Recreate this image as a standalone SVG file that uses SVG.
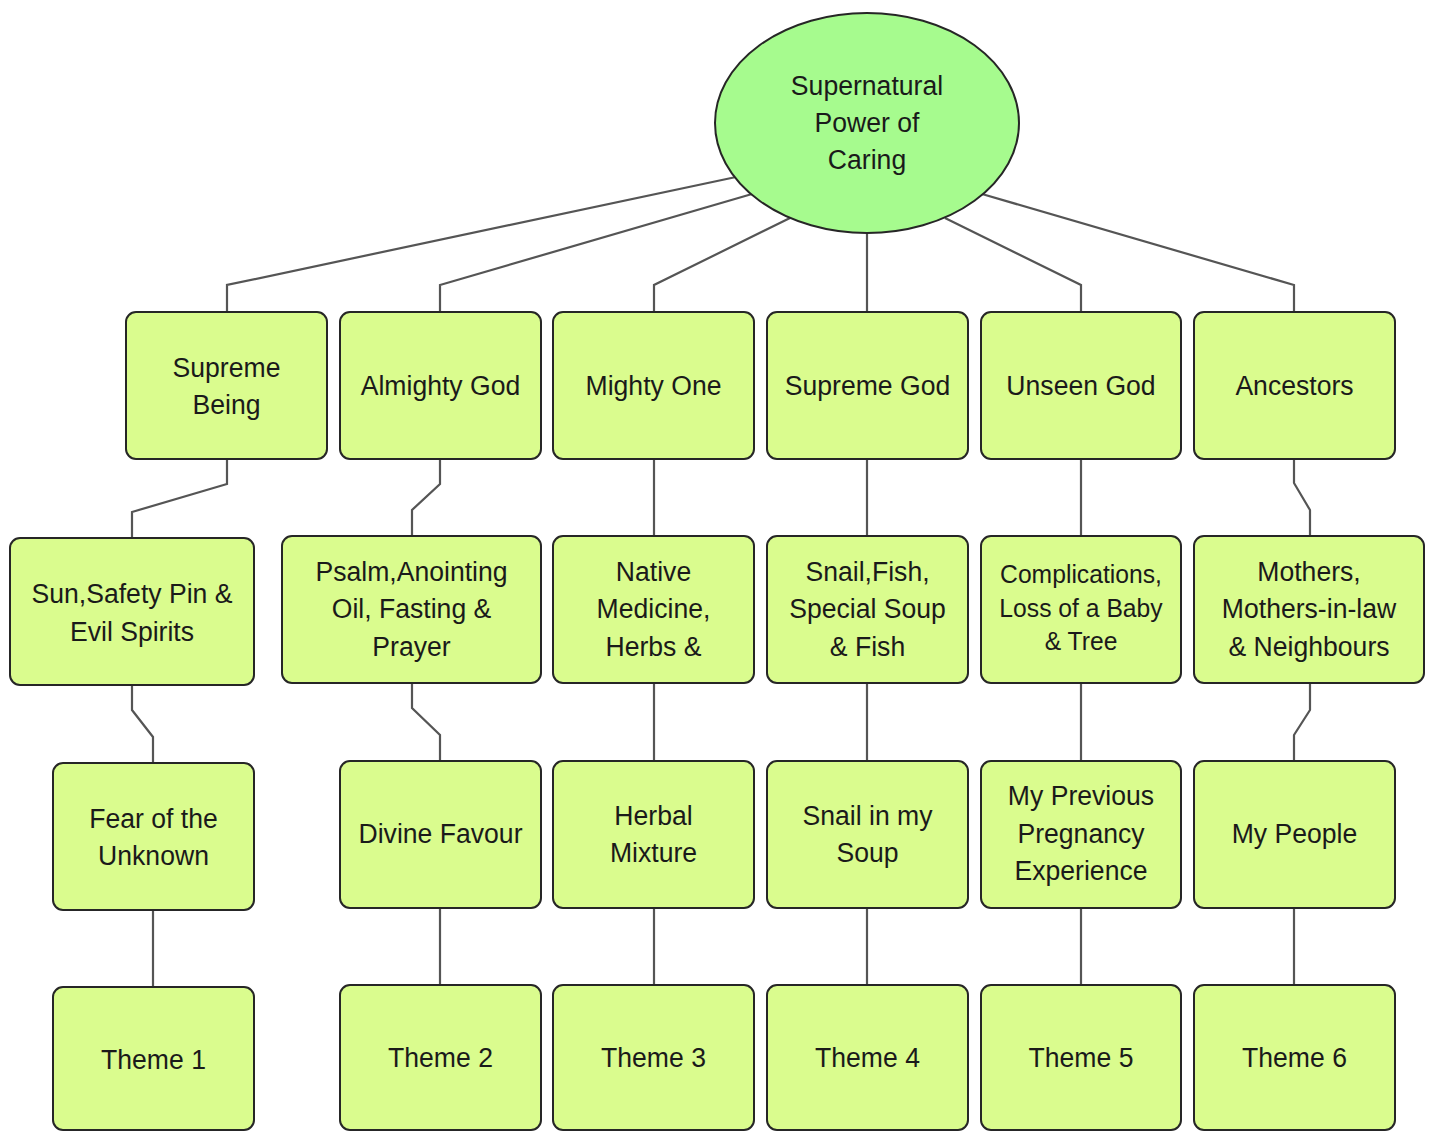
<svg xmlns="http://www.w3.org/2000/svg" width="1432" height="1131" viewBox="0 0 1432 1131">
  <style>
    .box { fill: #dafc8e; stroke: #262626; stroke-width: 2; }
    .root { fill: #a6fb8e; stroke: #262626; stroke-width: 2; }
    .link { fill: none; stroke: #555555; stroke-width: 2.2; stroke-linejoin: miter; }
    .t { font-family: "Liberation Sans", Arial, Helvetica, sans-serif; font-size: 28px; fill: #1a1a1a; text-anchor: middle; }
    .s { font-size: 26px; }
  </style>
  <rect width="1432" height="1131" fill="#ffffff"/>

  <!-- connectors (drawn first so the nodes sit on top) -->
  <g id="connectors" class="link">
    <path d="M736,177 L227,285 V312"/>
    <path d="M752,194 L440,285 V312"/>
    <path d="M790,218 L654,285 V312"/>
    <path d="M867,230 V312"/>
    <path d="M945,218 L1081,285 V312"/>
    <path d="M982,194 L1294,285 V312"/>

    <path d="M227,459 V484 L132,512 V538"/>
    <path d="M440,459 V484 L412,510 V536"/>
    <path d="M654,459 V536"/>
    <path d="M867,459 V536"/>
    <path d="M1081,459 V536"/>
    <path d="M1294,459 V483 L1310,510 V536"/>

    <path d="M132,685 V710 L153,737 V763"/>
    <path d="M412,683 V708 L440,735 V761"/>
    <path d="M654,683 V761"/>
    <path d="M867,683 V761"/>
    <path d="M1081,683 V761"/>
    <path d="M1310,683 V710 L1294,735 V761"/>

    <path d="M153,910 V987"/>
    <path d="M440,908 V985"/>
    <path d="M654,908 V985"/>
    <path d="M867,908 V985"/>
    <path d="M1081,908 V985"/>
    <path d="M1294,908 V985"/>
  </g>

  <!-- root -->
  <g id="root">
    <ellipse class="root" cx="867" cy="123" rx="152" ry="110"/>
    <text class="t" transform="translate(867 0) scale(0.95 1)"><tspan x="0" y="95">Supernatural</tspan><tspan x="0" y="132">Power of</tspan><tspan x="0" y="169">Caring</tspan></text>
  </g>

  <!-- level 1 -->
  <g id="supreme-being">
    <rect class="box" x="126" y="312" width="201" height="147" rx="10"/>
    <text class="t" transform="translate(226.5 0) scale(0.95 1)"><tspan x="0" y="377">Supreme</tspan><tspan x="0" y="414">Being</tspan></text>
  </g>
  <g id="almighty-god">
    <rect class="box" x="340" y="312" width="201" height="147" rx="10"/>
    <text class="t" transform="translate(440.5 0) scale(0.95 1)"><tspan x="0" y="395">Almighty God</tspan></text>
  </g>
  <g id="mighty-one">
    <rect class="box" x="553" y="312" width="201" height="147" rx="10"/>
    <text class="t" transform="translate(653.5 0) scale(0.95 1)"><tspan x="0" y="395">Mighty One</tspan></text>
  </g>
  <g id="supreme-god">
    <rect class="box" x="767" y="312" width="201" height="147" rx="10"/>
    <text class="t" transform="translate(867.5 0) scale(0.95 1)"><tspan x="0" y="395">Supreme God</tspan></text>
  </g>
  <g id="unseen-god">
    <rect class="box" x="981" y="312" width="200" height="147" rx="10"/>
    <text class="t" transform="translate(1081 0) scale(0.95 1)"><tspan x="0" y="395">Unseen God</tspan></text>
  </g>
  <g id="ancestors">
    <rect class="box" x="1194" y="312" width="201" height="147" rx="10"/>
    <text class="t" transform="translate(1294.5 0) scale(0.95 1)"><tspan x="0" y="395">Ancestors</tspan></text>
  </g>

  <!-- level 2 -->
  <g id="sun-safety-pin">
    <rect class="box" x="10" y="538" width="244" height="147" rx="10"/>
    <text class="t" transform="translate(132 0) scale(0.95 1)"><tspan x="0" y="603">Sun,Safety Pin &amp;</tspan><tspan x="0" y="641">Evil Spirits</tspan></text>
  </g>
  <g id="psalm-anointing">
    <rect class="box" x="282" y="536" width="259" height="147" rx="10"/>
    <text class="t" transform="translate(411.5 0) scale(0.95 1)"><tspan x="0" y="581">Psalm,Anointing</tspan><tspan x="0" y="618">Oil, Fasting &amp;</tspan><tspan x="0" y="656">Prayer</tspan></text>
  </g>
  <g id="native-medicine">
    <rect class="box" x="553" y="536" width="201" height="147" rx="10"/>
    <text class="t" transform="translate(653.5 0) scale(0.95 1)"><tspan x="0" y="581">Native</tspan><tspan x="0" y="618">Medicine,</tspan><tspan x="0" y="656">Herbs &amp;</tspan></text>
  </g>
  <g id="snail-fish">
    <rect class="box" x="767" y="536" width="201" height="147" rx="10"/>
    <text class="t" transform="translate(867.5 0) scale(0.95 1)"><tspan x="0" y="581">Snail,Fish,</tspan><tspan x="0" y="618">Special Soup</tspan><tspan x="0" y="656">&amp; Fish</tspan></text>
  </g>
  <g id="complications">
    <rect class="box" x="981" y="536" width="200" height="147" rx="10"/>
    <text class="t s" transform="translate(1081 0) scale(0.95 1)"><tspan x="0" y="583">Complications,</tspan><tspan x="0" y="617">Loss of a Baby</tspan><tspan x="0" y="650">&amp; Tree</tspan></text>
  </g>
  <g id="mothers">
    <rect class="box" x="1194" y="536" width="230" height="147" rx="10"/>
    <text class="t" transform="translate(1309 0) scale(0.95 1)"><tspan x="0" y="581">Mothers,</tspan><tspan x="0" y="618">Mothers-in-law</tspan><tspan x="0" y="656">&amp; Neighbours</tspan></text>
  </g>

  <!-- level 3 -->
  <g id="fear-unknown">
    <rect class="box" x="53" y="763" width="201" height="147" rx="10"/>
    <text class="t" transform="translate(153.5 0) scale(0.95 1)"><tspan x="0" y="828">Fear of the</tspan><tspan x="0" y="865">Unknown</tspan></text>
  </g>
  <g id="divine-favour">
    <rect class="box" x="340" y="761" width="201" height="147" rx="10"/>
    <text class="t" transform="translate(440.5 0) scale(0.95 1)"><tspan x="0" y="843">Divine Favour</tspan></text>
  </g>
  <g id="herbal-mixture">
    <rect class="box" x="553" y="761" width="201" height="147" rx="10"/>
    <text class="t" transform="translate(653.5 0) scale(0.95 1)"><tspan x="0" y="825">Herbal</tspan><tspan x="0" y="862">Mixture</tspan></text>
  </g>
  <g id="snail-soup">
    <rect class="box" x="767" y="761" width="201" height="147" rx="10"/>
    <text class="t" transform="translate(867.5 0) scale(0.95 1)"><tspan x="0" y="825">Snail in my</tspan><tspan x="0" y="862">Soup</tspan></text>
  </g>
  <g id="previous-pregnancy">
    <rect class="box" x="981" y="761" width="200" height="147" rx="10"/>
    <text class="t" transform="translate(1081 0) scale(0.95 1)"><tspan x="0" y="805">My Previous</tspan><tspan x="0" y="843">Pregnancy</tspan><tspan x="0" y="880">Experience</tspan></text>
  </g>
  <g id="my-people">
    <rect class="box" x="1194" y="761" width="201" height="147" rx="10"/>
    <text class="t" transform="translate(1294.5 0) scale(0.95 1)"><tspan x="0" y="843">My People</tspan></text>
  </g>

  <!-- level 4: themes -->
  <g id="theme-1">
    <rect class="box" x="53" y="987" width="201" height="143" rx="10"/>
    <text class="t" transform="translate(153.5 0) scale(0.95 1)"><tspan x="0" y="1069">Theme 1</tspan></text>
  </g>
  <g id="theme-2">
    <rect class="box" x="340" y="985" width="201" height="145" rx="10"/>
    <text class="t" transform="translate(440.5 0) scale(0.95 1)"><tspan x="0" y="1067">Theme 2</tspan></text>
  </g>
  <g id="theme-3">
    <rect class="box" x="553" y="985" width="201" height="145" rx="10"/>
    <text class="t" transform="translate(653.5 0) scale(0.95 1)"><tspan x="0" y="1067">Theme 3</tspan></text>
  </g>
  <g id="theme-4">
    <rect class="box" x="767" y="985" width="201" height="145" rx="10"/>
    <text class="t" transform="translate(867.5 0) scale(0.95 1)"><tspan x="0" y="1067">Theme 4</tspan></text>
  </g>
  <g id="theme-5">
    <rect class="box" x="981" y="985" width="200" height="145" rx="10"/>
    <text class="t" transform="translate(1081 0) scale(0.95 1)"><tspan x="0" y="1067">Theme 5</tspan></text>
  </g>
  <g id="theme-6">
    <rect class="box" x="1194" y="985" width="201" height="145" rx="10"/>
    <text class="t" transform="translate(1294.5 0) scale(0.95 1)"><tspan x="0" y="1067">Theme 6</tspan></text>
  </g>
</svg>
